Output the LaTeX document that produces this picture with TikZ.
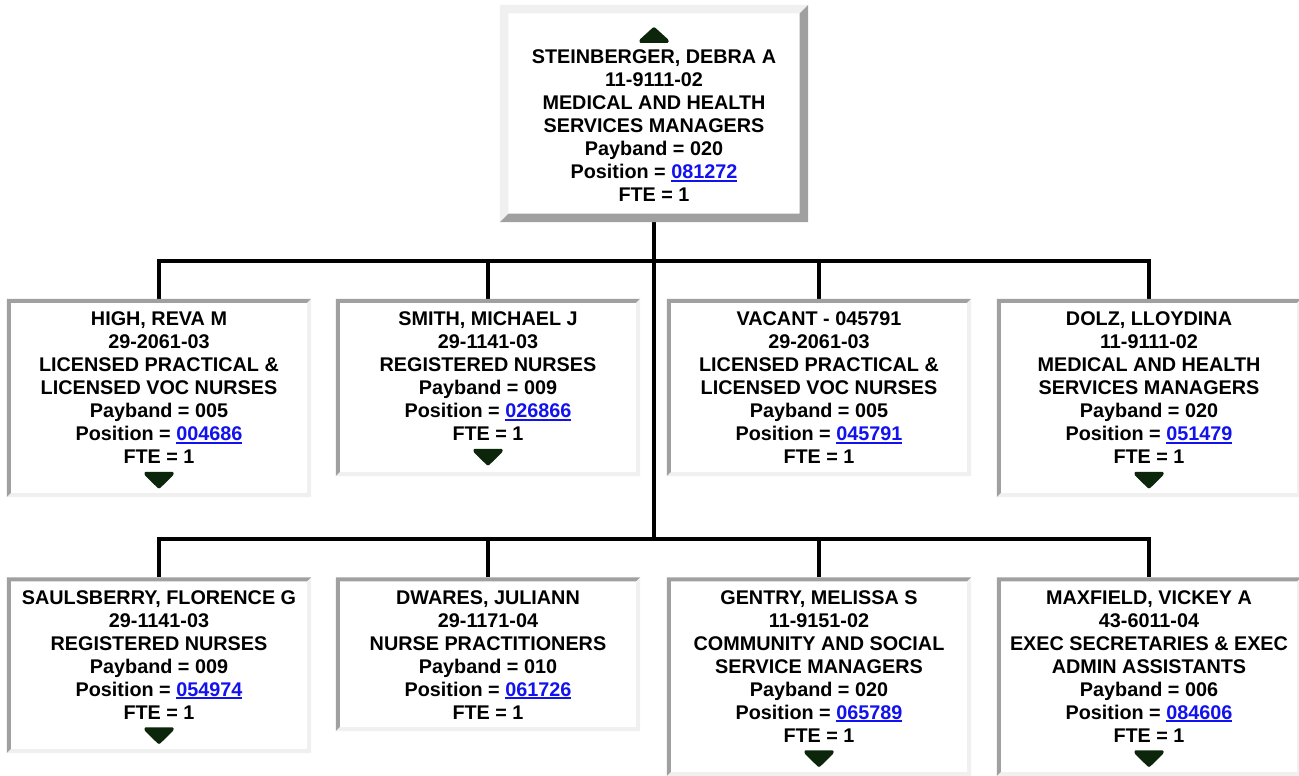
\documentclass[tikz,border=0pt]{standalone}
\usepackage{fontspec}
\setmainfont{Liberation Sans}
\usetikzlibrary{calc}
\definecolor{bdark}{HTML}{A0A0A0}
\definecolor{blight}{HTML}{F0F0F0}
\definecolor{tricol}{HTML}{0B260B}
\definecolor{linkblue}{HTML}{1212EE}
\newcommand\lnk[1]{{\color{linkblue}\setbox0\hbox{#1}\rlap{\rule[-3.3pt]{\wd0}{2.2pt}}\box0}}
% #1 node, #2 top-left colour, #3 bottom-right colour, #4 border width
\newcommand\mybevel[4]{%
  \fill[#2] (#1.north west) -- (#1.north east) -- ($(#1.north east)+(-#4,#4)$)
    -- ($(#1.north west)+(#4,#4)$) -- ($(#1.south west)+(#4,-#4)$) -- (#1.south west) -- cycle;
  \fill[#3] (#1.north east) -- (#1.south east) -- (#1.south west) -- ($(#1.south west)+(#4,-#4)$)
    -- ($(#1.south east)+(-#4,-#4)$) -- ($(#1.north east)+(-#4,#4)$) -- cycle;}
\tikzset{
  box/.style={rectangle, fill=white, inner sep=0pt, minimum width=304pt},
  txt/.style={anchor=north, inner sep=0pt, align=center,
    font=\fontsize{19.8pt}{23pt}\selectfont\bfseries},
  conn/.style={line width=4pt, black},
  downtri/.pic={\fill[tricol, rounded corners=1pt] (-14.5,-8) -- (14.5,-8) -- (14.5,-5)
      -- (0.8,8.5) -- (-0.8,8.5) -- (-14.5,-5) -- cycle;},
  uptri/.pic={\fill[tricol, rounded corners=1pt] (-14.5,7.5) -- (14.5,7.5) -- (14.5,4.5)
      -- (0.8,-8) -- (-0.8,-8) -- (-14.5,4.5) -- cycle;}
}
\begin{document}
\begin{tikzpicture}[x=1pt,y=-1pt]
\useasboundingbox[fill=white] (0,0) rectangle (1299,776);

% boxes
\node[box, minimum width=308pt, minimum height=217pt] (top) at (654,113.5) {};
\node[box, minimum height=198pt] (a1) at (159,398) {};
\node[box, minimum height=177pt] (a2) at (488,387.5) {};
\node[box, minimum height=177pt] (a3) at (819,387.5) {};
\node[box, minimum height=198pt] (a4) at (1149,398) {};
\node[box, minimum height=175.5pt] (b1) at (159,665.25) {};
\node[box, minimum height=153.5pt] (b2) at (488,654.25) {};
\node[box, minimum height=198.5pt] (b3) at (819,676.75) {};
\node[box, minimum height=198.5pt] (b4) at (1149,676.75) {};

% connectors
\coordinate (j1) at (654,261);
\coordinate (j2) at (654,538.5);
\draw[conn] (top.south) -- (j2);
\draw[conn] (a1.north) |- (j1) -| (a4.north);
\draw[conn] (a2.north) -- (a2.north |- j1);
\draw[conn] (a3.north) -- (a3.north |- j1);
\draw[conn] (b1.north) |- (j2) -| (b4.north);
\draw[conn] (b2.north) -- (b2.north |- j2);
\draw[conn] (b3.north) -- (b3.north |- j2);

% borders
\mybevel{top}{blight}{bdark}{8.5}
\foreach \n in {a1,a2,a3,a4,b1,b2,b3,b4}{\mybevel{\n}{bdark}{blight}{4}}

% texts
\pic at ($(top.north)+(0,30.5)$) {uptri};
\node[txt] (topt) at ($(top.north)+(0,43.75)$) {\rule{0pt}{15pt}STEINBERGER, DEBRA A\\11-9111-02\\MEDICAL AND HEALTH\\SERVICES MANAGERS\\Payband = 020\\Position = \lnk{081272}\\FTE = 1};

\node[txt] (a1t) at ($(a1.north)+(0,11.5)$) {\rule{0pt}{15pt}HIGH, REVA M\\29-2061-03\\LICENSED PRACTICAL \&\\LICENSED VOC NURSES\\Payband = 005\\Position = \lnk{004686}\\FTE = 1};
\pic at ($(a1t.south)+(0,16.2)$) {downtri};

\node[txt] (a2t) at ($(a2.north)+(0,11.5)$) {\rule{0pt}{15pt}SMITH, MICHAEL J\\29-1141-03\\REGISTERED NURSES\\Payband = 009\\Position = \lnk{026866}\\FTE = 1};
\pic at ($(a2t.south)+(0,16.2)$) {downtri};

\node[txt] (a3t) at ($(a3.north)+(0,11.5)$) {\rule{0pt}{15pt}VACANT - 045791\\29-2061-03\\LICENSED PRACTICAL \&\\LICENSED VOC NURSES\\Payband = 005\\Position = \lnk{045791}\\FTE = 1};

\node[txt] (a4t) at ($(a4.north)+(0,11.5)$) {\rule{0pt}{15pt}DOLZ, LLOYDINA\\11-9111-02\\MEDICAL AND HEALTH\\SERVICES MANAGERS\\Payband = 020\\Position = \lnk{051479}\\FTE = 1};
\pic at ($(a4t.south)+(0,16.2)$) {downtri};

\node[txt] (b1t) at ($(b1.north)+(0,11.5)$) {\rule{0pt}{15pt}SAULSBERRY, FLORENCE G\\29-1141-03\\REGISTERED NURSES\\Payband = 009\\Position = \lnk{054974}\\FTE = 1};
\pic at ($(b1t.south)+(0,16.2)$) {downtri};

\node[txt] (b2t) at ($(b2.north)+(0,11.5)$) {\rule{0pt}{15pt}DWARES, JULIANN\\29-1171-04\\NURSE PRACTITIONERS\\Payband = 010\\Position = \lnk{061726}\\FTE = 1};

\node[txt] (b3t) at ($(b3.north)+(0,11.5)$) {\rule{0pt}{15pt}GENTRY, MELISSA S\\11-9151-02\\COMMUNITY AND SOCIAL\\SERVICE MANAGERS\\Payband = 020\\Position = \lnk{065789}\\FTE = 1};
\pic at ($(b3t.south)+(0,16.2)$) {downtri};

\node[txt] (b4t) at ($(b4.north)+(0,11.5)$) {\rule{0pt}{15pt}MAXFIELD, VICKEY A\\43-6011-04\\EXEC SECRETARIES \& EXEC\\ADMIN ASSISTANTS\\Payband = 006\\Position = \lnk{084606}\\FTE = 1};
\pic at ($(b4t.south)+(0,16.2)$) {downtri};
\end{tikzpicture}
\end{document}
